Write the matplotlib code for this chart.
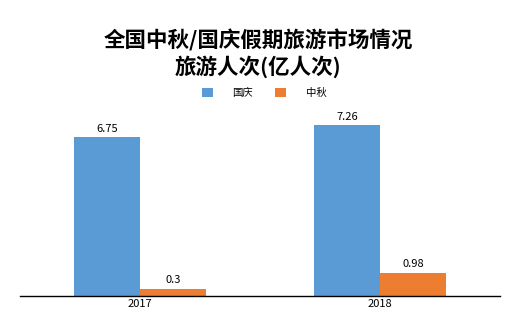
import matplotlib.pyplot as plt
import numpy as np

plt.rcParams['font.family'] = ['Noto Sans CJK SC', 'DejaVu Sans']

years = ["2017", "2018"]
guoqing = [6.75, 7.26]
zhongqiu = [0.3, 0.98]
series_names = ["国庆", "中秋"]
colors = ["#5B9BD5", "#ED7D31"]

W, H = 522, 328
fig = plt.figure(figsize=(W / 100, H / 100), dpi=100)
ax = fig.add_axes([20 / W, (H - 296) / H, 480 / W, 196 / H])

x = np.arange(len(years))
w = 0.275
b1 = ax.bar(x - w / 2, guoqing, w, color=colors[0], label=series_names[0])
b2 = ax.bar(x + w / 2, zhongqiu, w, color=colors[1], label=series_names[1])

for bars, vals in [(b1, guoqing), (b2, zhongqiu)]:
    for rect, v in zip(bars, vals):
        ax.annotate(f"{v:g}", (rect.get_x() + rect.get_width() / 2, v),
                    xytext=(0, 2.5), textcoords="offset points",
                    ha="center", va="bottom", fontsize=8)

ax.set_xlim(-0.5, 1.5)
ax.set_ylim(0, 196 / 23.55)
ax.set_xticks(x)
ax.set_xticklabels(years, fontsize=8)
ax.tick_params(axis="x", length=0, pad=2)
ax.set_yticks([])
for s in ["top", "left", "right"]:
    ax.spines[s].set_visible(False)
ax.spines["bottom"].set_color("black")
ax.spines["bottom"].set_linewidth(1)

fig.text(258 / W, 1 - 40 / H, "全国中秋/国庆假期旅游市场情况", ha="center", va="center",
         fontsize=15.5, fontweight="bold")
fig.text(258 / W, 1 - 67 / H, "旅游人次(亿人次)", ha="center", va="center",
         fontsize=15.5, fontweight="bold")

fig.legend(handles=[b1, b2], loc="center", bbox_to_anchor=(264 / W, 1 - 93 / H),
           ncol=2, frameon=False, fontsize=7.5, handlelength=1.05, handleheight=1.05,
           handletextpad=1.9, columnspacing=2.1)

fig.savefig("out.png", dpi=100)
